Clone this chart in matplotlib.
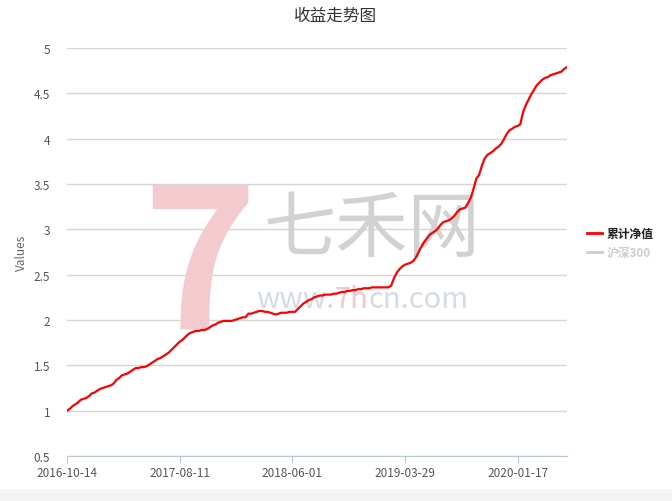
import matplotlib
matplotlib.use("Agg")
import matplotlib.pyplot as plt
from matplotlib.patches import Rectangle

plt.rcParams['font.family'] = ['Noto Sans CJK SC', 'DejaVu Sans']

# weekly cumulative net value
net_value = [
    1.00, 1.02, 1.05, 1.07, 1.09, 1.12, 1.13, 1.14, 1.16, 1.19,
    1.20, 1.22, 1.24, 1.25, 1.26, 1.27, 1.28, 1.30, 1.34, 1.36,
    1.39, 1.40, 1.41, 1.43, 1.45, 1.47, 1.47, 1.48, 1.48, 1.49,
    1.51, 1.53, 1.55, 1.57, 1.58, 1.60, 1.62, 1.64, 1.67, 1.70,
    1.73, 1.76, 1.78, 1.81, 1.84, 1.86, 1.87, 1.88, 1.88, 1.89,
    1.89, 1.90, 1.92, 1.94, 1.95, 1.97, 1.98, 1.99, 1.99, 1.99,
    1.99, 2.00, 2.01, 2.02, 2.03, 2.03, 2.07, 2.07, 2.08, 2.09,
    2.10, 2.10, 2.09, 2.09, 2.08, 2.07, 2.06, 2.07, 2.08, 2.08,
    2.08, 2.09, 2.09, 2.09, 2.12, 2.15, 2.18, 2.20, 2.22, 2.23,
    2.25, 2.26, 2.27, 2.27, 2.28, 2.28, 2.28, 2.29, 2.29, 2.30,
    2.31, 2.31, 2.32, 2.32, 2.33, 2.33, 2.34, 2.34, 2.35, 2.35,
    2.35, 2.36, 2.36, 2.36, 2.36, 2.36, 2.36, 2.36, 2.38, 2.46,
    2.52, 2.56, 2.59, 2.61, 2.62, 2.63, 2.65, 2.69, 2.75, 2.81,
    2.86, 2.90, 2.94, 2.96, 2.98, 3.01, 3.05, 3.08, 3.09, 3.10,
    3.12, 3.15, 3.19, 3.22, 3.23, 3.24, 3.29, 3.35, 3.45, 3.56,
    3.60, 3.70, 3.78, 3.82, 3.84, 3.86, 3.89, 3.91, 3.94, 3.99,
    4.05, 4.09, 4.11, 4.13, 4.14, 4.16, 4.29, 4.37, 4.43, 4.49,
    4.54, 4.59, 4.62, 4.65, 4.67, 4.68, 4.70, 4.71, 4.72, 4.73,
    4.74, 4.77, 4.79,
]
tick_labels = ['2016-10-14', '2017-08-11', '2018-06-01', '2019-03-29', '2020-01-17']
tick_step = 41
y_ticks = [0.5, 1, 1.5, 2, 2.5, 3, 3.5, 4, 4.5, 5]

fig = plt.figure(figsize=(6.72, 5.02), dpi=100)
fig.patches.append(Rectangle((0, 0), 1, 12 / 502, transform=fig.transFigure,
                             facecolor='#f3f3f3', edgecolor='none', zorder=0))
ax = fig.add_axes([67 / 672, 45 / 502, 500 / 672, 408 / 502])

x = list(range(len(net_value)))
ax.plot(x, net_value, color='#ff0000', lw=1.6, zorder=5)

# watermark
ax.text(0.61, 0.555, '七禾网', transform=ax.transAxes, fontsize=52,
        color='#d2d2d2', ha='center', va='center', zorder=1)
ax.text(0.535, 0.385, 'www.', transform=ax.transAxes, fontsize=21,
        color='#d4dae6', ha='right', va='center', zorder=1)
ax.text(0.535, 0.385, '7h', transform=ax.transAxes, fontsize=21,
        color='#f2c8cc', ha='left', va='center', zorder=1)
ax.text(0.603, 0.385, 'cn.com', transform=ax.transAxes, fontsize=21,
        color='#d4dae6', ha='left', va='center', zorder=1)
ax.text(0.265, 0.455, '7', transform=ax.transAxes, fontsize=140,
        fontweight='bold', color='#f3cacd', ha='center', va='center', zorder=1)

ax.set_xlim(0, len(net_value) - 1)
ax.set_ylim(0.5, 5)
ax.set_yticks(y_ticks)
ax.set_yticklabels(['0.5', '1', '1.5', '2', '2.5', '3', '3.5', '4', '4.5', '5'])
ax.set_xticks(range(0, len(net_value), tick_step))
ax.set_xticklabels(tick_labels)
ax.grid(axis='y', color='#d5d5d5', lw=1)
ax.set_axisbelow(True)
for s in ['top', 'right', 'left']:
    ax.spines[s].set_visible(False)
ax.spines['bottom'].set_color('#b8c6d6')
ax.tick_params(axis='y', length=0, labelsize=8.5, labelcolor='#555555', pad=12)
ax.tick_params(axis='x', length=5, color='#b8c6d6', labelsize=8.5,
               labelcolor='#555555', pad=2)
ax.set_ylabel('Values', fontsize=8.5, color='#666666', labelpad=4)

fig.text(0.5, 0.968, '收益走势图', ha='center', va='center', fontsize=12, color='#333333')

# legend
fig.lines.append(plt.Line2D([587 / 672, 602 / 672], [1 - 234 / 502] * 2,
                            transform=fig.transFigure, color='#ff0000', lw=2))
fig.text(607 / 672, 1 - 234 / 502, '累计净值', fontsize=8.5, fontweight='bold',
         color='#222222', va='center')
fig.lines.append(plt.Line2D([587 / 672, 602 / 672], [1 - 253 / 502] * 2,
                            transform=fig.transFigure, color='#cccccc', lw=2))
fig.text(607 / 672, 1 - 253 / 502, '沪深300', fontsize=8.5, fontweight='bold',
         color='#cccccc', va='center')

fig.savefig('out.png', dpi=100)
